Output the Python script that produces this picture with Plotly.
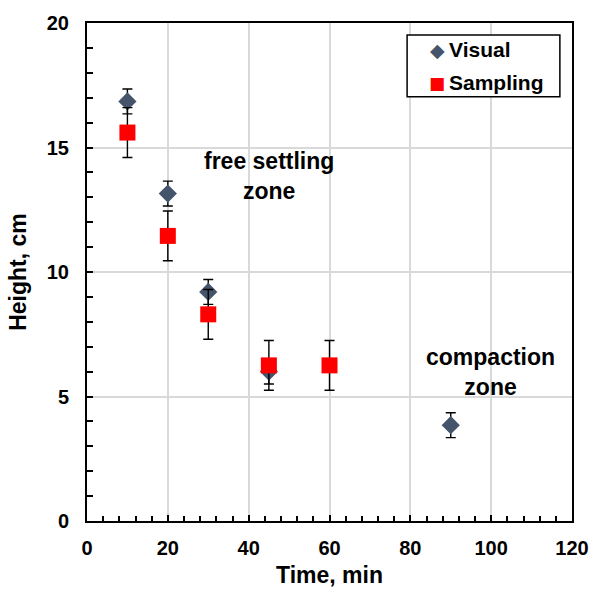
import plotly.graph_objects as go

# Settling test: interface height versus time
visual_time = [10, 20, 30, 45, 90]
visual_height = [16.85, 13.15, 9.2, 6.0, 3.85]
visual_err = [0.5, 0.5, 0.5, 0.5, 0.5]

sampling_time = [10, 20, 30, 45, 60]
sampling_height = [15.6, 11.45, 8.3, 6.25, 6.25]
sampling_err = [1.0, 1.0, 1.0, 1.0, 1.0]

VISUAL_COLOR = "#44546A"
SAMPLING_COLOR = "#FF0000"
FONT = "Liberation Sans, Arial, sans-serif"

fig = go.Figure()

fig.add_trace(go.Scatter(
    x=visual_time, y=visual_height, mode="markers", name="Visual",
    marker=dict(symbol="diamond", size=14, color=VISUAL_COLOR),
    error_y=dict(type="data", array=visual_err, color="black", thickness=1.4, width=5),
    showlegend=False,
))
fig.add_trace(go.Scatter(
    x=sampling_time, y=sampling_height, mode="markers", name="Sampling",
    marker=dict(symbol="square", size=16, color=SAMPLING_COLOR),
    error_y=dict(type="data", array=sampling_err, color="black", thickness=1.4, width=5),
    showlegend=False,
))

# zone labels
fig.add_annotation(x=45, y=13.87, text="<b>free settling<br>zone</b>", showarrow=False,
                   font=dict(family=FONT, size=23, color="black"))
fig.add_annotation(x=99.8, y=6.0, text="<b>compaction<br>zone</b>", showarrow=False,
                   font=dict(family=FONT, size=23, color="black"))

# compact boxed key in the upper right corner
fig.add_shape(type="rect", xref="paper", yref="paper",
              x0=0.660, x1=0.975, y0=0.852, y1=0.976,
              line=dict(color="black", width=1.5), fillcolor="white", layer="above")
key_rows = [
    ("Visual", VISUAL_COLOR, "\u25C6", 19, 0.946),
    ("Sampling", SAMPLING_COLOR, "\u25A0", 17, 0.880),
]
for label, color, glyph, glyph_size, ypos in key_rows:
    fig.add_annotation(
        xref="paper", yref="paper", x=0.722, y=ypos, xanchor="center", yanchor="middle",
        text=glyph, showarrow=False,
        font=dict(family="DejaVu Sans", size=glyph_size, color=color),
    )
    fig.add_annotation(
        xref="paper", yref="paper", x=0.742, y=ypos, xanchor="left", yanchor="middle",
        text=f"<b>{label}</b>", showarrow=False,
        font=dict(family=FONT, size=21, color="black"),
    )

axis_common = dict(
    showline=True, linecolor="black", linewidth=2, mirror=True,
    ticks="inside", ticklen=6, tickwidth=1.5, tickcolor="black",
    showgrid=True, gridcolor="#D9D9D9", gridwidth=1.5,
    zeroline=False, automargin=False,
    tickfont=dict(family=FONT, size=20, color="black", weight="bold"),
)

fig.update_xaxes(
    range=[0, 120], dtick=20, tick0=0, ticklabelstandoff=8,
    minor=dict(ticks="inside", dtick=4, ticklen=5, tickcolor="black", tickwidth=1.5, showgrid=False),
    title=dict(text="<b>Time, min</b>", font=dict(family=FONT, size=23, color="black"), standoff=9),
    **axis_common,
)
fig.update_yaxes(
    range=[0, 20], dtick=5, tick0=0, ticklabelstandoff=12,
    minor=dict(ticks="inside", dtick=1, ticklen=6, tickcolor="black", tickwidth=1.5, showgrid=False),
    title=dict(text="<b>Height, cm</b>", font=dict(family=FONT, size=23, color="black"), standoff=14),
    **axis_common,
)

fig.update_layout(
    width=592, height=590,
    margin=dict(l=87, r=20, t=23, b=69),
    paper_bgcolor="white", plot_bgcolor="white",
    showlegend=False,
)

fig.write_html("out.html")
